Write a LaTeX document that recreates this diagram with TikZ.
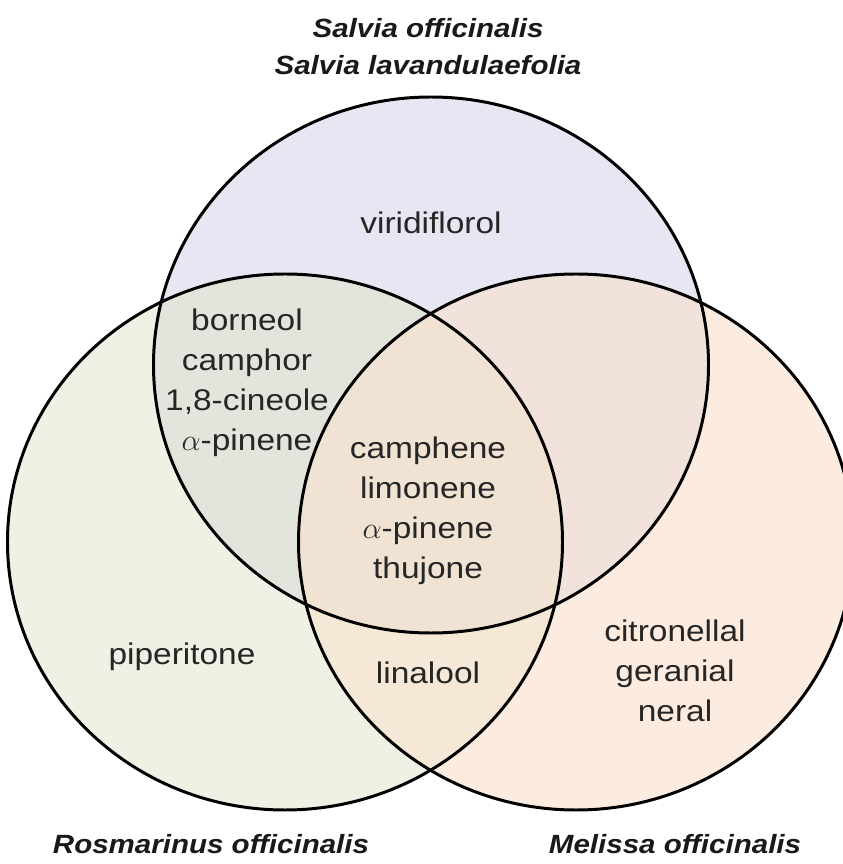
\documentclass[tikz,border=0pt]{standalone}
\usepackage{fontspec}
\setmainfont[FakeStretch=1.12]{Liberation Sans}

\definecolor{sagefill}{HTML}{E8E6F2}
\definecolor{rosefill}{HTML}{EEF1E4}
\definecolor{melfill}{HTML}{FCEBDF}
\definecolor{sagerose}{HTML}{E3E4DC}
\definecolor{sagemel}{HTML}{F1E2DC}
\definecolor{rosemel}{HTML}{F6E8D6}
\definecolor{allthree}{HTML}{F0E3D3}

\begin{document}
\begin{tikzpicture}[
  ring/.style={draw=black,line width=1.7pt},
  compound/.style={align=center,text=black!85,
    font=\fontsize{17}{22.8}\selectfont},
  species/.style={align=center,text=black!90,
    font=\fontsize{15}{21}\selectfont\bfseries\itshape}]
 \useasboundingbox (0,0) rectangle (16.86,17.28);
 \def\ringx{5.55}
 \def\ringy{5.36}
 \coordinate (sage) at (8.62,9.98);
 \coordinate (rose) at (5.70,6.44);
 \coordinate (mel) at (11.52,6.44);

 % plain regions
 \fill[sagefill] (sage) ellipse [x radius=\ringx,y radius=\ringy];
 \fill[rosefill] (rose) ellipse [x radius=\ringx,y radius=\ringy];
 \fill[melfill] (mel) ellipse [x radius=\ringx,y radius=\ringy];
 % overlaps
 \begin{scope}
   \clip (sage) ellipse [x radius=\ringx,y radius=\ringy];
   \fill[sagerose] (rose) ellipse [x radius=\ringx,y radius=\ringy];
   \fill[sagemel] (mel) ellipse [x radius=\ringx,y radius=\ringy];
 \end{scope}
 \begin{scope}
   \clip (rose) ellipse [x radius=\ringx,y radius=\ringy];
   \fill[rosemel] (mel) ellipse [x radius=\ringx,y radius=\ringy];
   \clip (sage) ellipse [x radius=\ringx,y radius=\ringy];
   \fill[allthree] (mel) ellipse [x radius=\ringx,y radius=\ringy];
 \end{scope}
 \draw[ring] (sage) ellipse [x radius=\ringx,y radius=\ringy];
 \draw[ring] (rose) ellipse [x radius=\ringx,y radius=\ringy];
 \draw[ring] (mel) ellipse [x radius=\ringx,y radius=\ringy];

 \node[species] (salvia) at (8.56,16.34)
   {Salvia officinalis\\Salvia lavandulaefolia};
 \node[species] (rosmarinus) at (4.22,0.40) {Rosmarinus officinalis};
 \node[species] (melissa) at (13.50,0.40) {Melissa officinalis};

 \node[compound] (viridiflorol) at (8.62,12.82) {viridiflorol};
 \node[compound] (borneol) at (4.94,9.62)
   {borneol\\camphor\\1,8-cineole\\$\alpha$-pinene};
 \node[compound] (core) at (8.56,7.06)
   {camphene\\limonene\\$\alpha$-pinene\\thujone};
 \node[compound] (piperitone) at (3.64,4.14) {piperitone};
 \node[compound] (linalool) at (8.56,3.82) {linalool};
 \node[compound] (citronellal) at (13.50,3.86)
   {citronellal\\geranial\\neral};
\end{tikzpicture}
\end{document}
